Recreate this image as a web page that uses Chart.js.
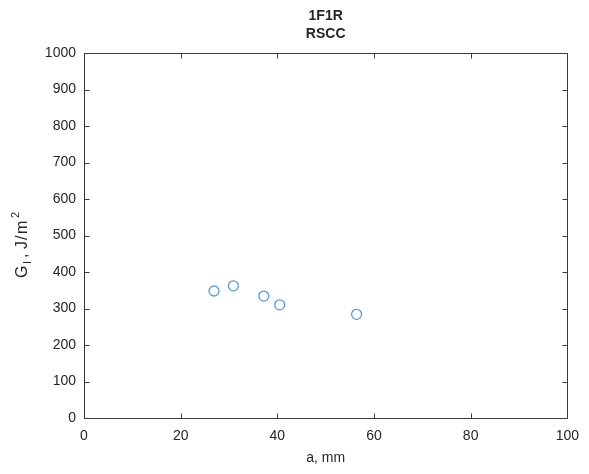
<!DOCTYPE html>
<html>
<head>
<meta charset="utf-8">
<script src="https://cdn.jsdelivr.net/npm/chart.js@4/dist/chart.umd.min.js"></script>
<style>
html,body{margin:0;padding:0;background:#fff;}
canvas{display:block;}
</style>
</head>
<body>
<canvas id="c" width="589" height="474"></canvas>
<script>
const titleLines = ["1F1R", "RSCC"];
const xLabel = "a, mm";
const crackLength = [26.9, 30.9, 37.2, 40.5, 56.4];
const energyRelease = [348, 362, 334, 310, 284];
const xTicks = [0, 20, 40, 60, 80, 100];
const yTicks = [0, 100, 200, 300, 400, 500, 600, 700, 800, 900, 1000];

const FONT = "'Liberation Sans', Arial, sans-serif";
const AXIS = '#3a3a3a';
const TEXT = '#262626';

const matlabFrame = {
  id: 'matlabFrame',
  afterDraw(chart) {
    const {ctx, chartArea: a, scales: {x, y}} = chart;
    ctx.save();
    ctx.strokeStyle = AXIS;
    ctx.lineWidth = 1;
    const L = Math.round(a.left) + 0.5, R = Math.round(a.right) + 0.5;
    const T = Math.round(a.top) + 0.5, B = Math.round(a.bottom) + 0.5;
    ctx.beginPath();
    ctx.rect(L, T, R - L, B - T);
    ctx.stroke();
    const tl = 5;
    ctx.beginPath();
    xTicks.forEach(v => {
      const px = Math.round(x.getPixelForValue(v)) + 0.5;
      ctx.moveTo(px, B); ctx.lineTo(px, B - tl);
      ctx.moveTo(px, T); ctx.lineTo(px, T + tl);
    });
    yTicks.forEach(v => {
      const py = Math.round(y.getPixelForValue(v)) + 0.5;
      ctx.moveTo(L, py); ctx.lineTo(L + tl, py);
      ctx.moveTo(R, py); ctx.lineTo(R - tl, py);
    });
    ctx.stroke();

    const cx = (a.left + a.right) / 2;
    ctx.fillStyle = TEXT;
    ctx.textAlign = 'center';
    ctx.textBaseline = 'middle';
    ctx.font = 'bold 14px ' + FONT;
    ctx.fillText(titleLines[0], cx, 16);
    ctx.fillText(titleLines[1], cx, 34);

    ctx.font = '14px ' + FONT;
    ctx.fillText(xLabel, cx, 458);

    // y label with subscript and superscript (MATLAB tex spacing)
    ctx.translate(27, 278);
    ctx.rotate(-Math.PI / 2);
    ctx.textAlign = 'left';
    ctx.textBaseline = 'alphabetic';
    const big = '16px ' + FONT, small = '11px ' + FONT;
    const parts = [
      {t: 'G', f: big, at: 0, dy: 0},
      {t: 'I', f: small, at: 14, dy: 4},
      {t: ',', f: big, at: 20, dy: 0},
      {t: 'J', f: big, at: 29, dy: 0},
      {t: '/', f: big, at: 38, dy: 0},
      {t: 'm', f: big, at: 44, dy: 0},
      {t: '2', f: small, at: 60, dy: -8}
    ];
    parts.forEach(p => {
      ctx.font = p.f;
      ctx.fillText(p.t, p.at, p.dy);
    });
    ctx.restore();
  }
};

new Chart(document.getElementById('c'), {
  type: 'scatter',
  data: {
    datasets: [{
      data: crackLength.map((v, i) => ({x: v, y: energyRelease[i]})),
      pointStyle: 'circle',
      pointRadius: 5,
      pointHoverRadius: 5,
      borderColor: 'rgb(90,155,213)',
      backgroundColor: 'rgba(0,0,0,0)',
      pointBorderWidth: 1.3,
      showLine: false
    }]
  },
  options: {
    responsive: false,
    devicePixelRatio: 1,
    animation: false,
    layout: {padding: {left: 0, right: 21, top: 53, bottom: 0}},
    plugins: {legend: {display: false}, tooltip: {enabled: false}, title: {display: false}},
    scales: {
      x: {
        type: 'linear', min: 0, max: 100,
        grid: {display: false, drawTicks: false},
        border: {display: false},
        afterFit(s) { s.height = 56; },
        afterBuildTicks(s) { s.ticks = xTicks.map(v => ({value: v})); },
        ticks: {padding: 10, color: TEXT, font: {family: FONT, size: 14}, maxRotation: 0,
                callback: v => String(v)}
      },
      y: {
        type: 'linear', min: 0, max: 1000,
        grid: {display: false, drawTicks: false},
        border: {display: false},
        afterFit(s) { s.width = 84; },
        afterBuildTicks(s) { s.ticks = yTicks.map(v => ({value: v})); },
        ticks: {padding: 8, color: TEXT, font: {family: FONT, size: 14},
                callback: v => String(v)}
      }
    }
  },
  plugins: [matlabFrame]
});
</script>
</body>
</html>
